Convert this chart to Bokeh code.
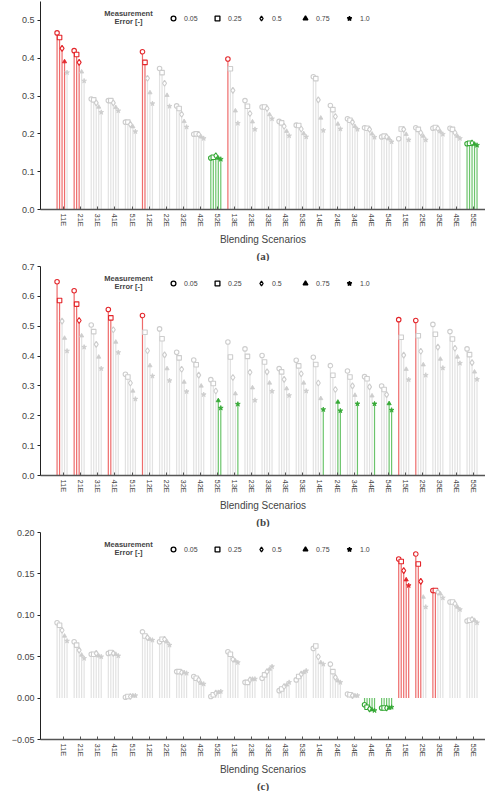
import math
from bokeh.plotting import figure
from bokeh.models import (Range1d, FixedTicker, Label, Legend, LegendItem,
                          CustomJSTickFormatter, ColumnDataSource, Title)
from bokeh.layouts import column
from bokeh.embed import file_html
from bokeh.resources import INLINE

# ---------------- data ----------------
scenarios = ["11E", "21E", "31E", "41E", "51E", "12E", "22E", "32E", "42E", "52E",
             "13E", "23E", "33E", "43E", "53E", "14E", "24E", "34E", "44E", "54E",
             "15E", "25E", "35E", "45E", "55E"]
errors = ["0.05", "0.25", "0.5", "0.75", "1.0"]

# panel (a): delta RMSE, one list of 5 values (per measurement error) per scenario
a_vals = [
    [0.467, 0.455, 0.426, 0.391, 0.362], [0.420, 0.410, 0.389, 0.364, 0.340],
    [0.292, 0.290, 0.282, 0.271, 0.257], [0.288, 0.288, 0.282, 0.270, 0.261],
    [0.231, 0.231, 0.225, 0.219, 0.206], [0.417, 0.389, 0.347, 0.309, 0.280],
    [0.373, 0.362, 0.334, 0.302, 0.273], [0.274, 0.267, 0.252, 0.233, 0.218],
    [0.199, 0.200, 0.199, 0.192, 0.188], [0.136, 0.138, 0.142, 0.136, 0.133],
    [0.398, 0.372, 0.315, 0.261, 0.228], [0.288, 0.273, 0.254, 0.232, 0.212],
    [0.271, 0.271, 0.267, 0.251, 0.240], [0.233, 0.229, 0.220, 0.207, 0.195],
    [0.223, 0.222, 0.213, 0.201, 0.192], [0.351, 0.346, 0.290, 0.242, 0.209],
    [0.275, 0.264, 0.246, 0.226, 0.213], [0.240, 0.236, 0.231, 0.220, 0.212],
    [0.216, 0.215, 0.212, 0.200, 0.191], [0.192, 0.194, 0.192, 0.187, 0.179],
    [0.187, 0.213, 0.212, 0.199, 0.184], [0.216, 0.212, 0.203, 0.194, 0.184],
    [0.215, 0.217, 0.214, 0.206, 0.199], [0.215, 0.212, 0.203, 0.194, 0.188],
    [0.174, 0.175, 0.176, 0.173, 0.170],
]
# '+' = worst (red), '-' = best (green), '.' = neither
a_flags = ["++++.", "+++..", ".....", ".....", ".....", "++...", ".....", ".....", ".....", "-----",
           "+....", ".....", ".....", ".....", ".....", ".....", ".....", ".....", ".....", ".....",
           ".....", ".....", ".....", ".....", "-----"]

# panel (b): delta RMSE
b_vals = [
    [0.649, 0.586, 0.517, 0.460, 0.417], [0.619, 0.574, 0.519, 0.468, 0.430],
    [0.504, 0.482, 0.439, 0.397, 0.358], [0.556, 0.528, 0.488, 0.447, 0.412],
    [0.339, 0.330, 0.310, 0.283, 0.256], [0.536, 0.480, 0.418, 0.368, 0.333],
    [0.491, 0.458, 0.404, 0.358, 0.318], [0.413, 0.394, 0.356, 0.313, 0.281],
    [0.387, 0.371, 0.336, 0.300, 0.271], [0.321, 0.308, 0.283, 0.251, 0.226],
    [0.447, 0.397, 0.328, 0.274, 0.239], [0.424, 0.399, 0.346, 0.294, 0.252],
    [0.402, 0.380, 0.347, 0.310, 0.282], [0.358, 0.347, 0.322, 0.291, 0.268],
    [0.386, 0.367, 0.341, 0.310, 0.283], [0.396, 0.372, 0.310, 0.258, 0.221],
    [0.368, 0.336, 0.288, 0.246, 0.217], [0.350, 0.330, 0.300, 0.269, 0.240],
    [0.331, 0.324, 0.297, 0.267, 0.240], [0.300, 0.288, 0.271, 0.241, 0.219],
    [0.522, 0.463, 0.403, 0.356, 0.321], [0.519, 0.468, 0.416, 0.371, 0.336],
    [0.506, 0.473, 0.430, 0.390, 0.360], [0.482, 0.457, 0.426, 0.397, 0.376],
    [0.424, 0.405, 0.378, 0.347, 0.322],
]
b_flags = ["++...", "+++..", ".....", "++...", ".....", "+....", ".....", ".....", ".....", "...--",
           "....-", ".....", ".....", ".....", ".....", "....-", "...--", "....-", "....-", "...--",
           "+....", "+....", ".....", ".....", "....."]

# panel (c): avg. delta RMSE
c_vals = [
    [0.091, 0.088, 0.082, 0.075, 0.069], [0.068, 0.064, 0.058, 0.052, 0.048],
    [0.053, 0.053, 0.054, 0.051, 0.050], [0.054, 0.055, 0.054, 0.053, 0.051],
    [0.001, 0.002, 0.002, 0.003, 0.003], [0.080, 0.075, 0.073, 0.071, 0.070],
    [0.068, 0.071, 0.071, 0.068, 0.064], [0.032, 0.032, 0.031, 0.031, 0.030],
    [0.026, 0.024, 0.022, 0.018, 0.017], [0.002, 0.004, 0.006, 0.007, 0.008],
    [0.056, 0.053, 0.047, 0.045, 0.043], [0.019, 0.019, 0.022, 0.023, 0.023],
    [0.024, 0.028, 0.032, 0.035, 0.038], [0.009, 0.011, 0.014, 0.016, 0.019],
    [0.022, 0.026, 0.029, 0.031, 0.033], [0.060, 0.063, 0.050, 0.043, 0.041],
    [0.041, 0.032, 0.025, 0.021, 0.019], [0.005, 0.004, 0.003, 0.003, 0.003],
    [-0.008, -0.011, -0.013, -0.014, -0.015], [-0.012, -0.012, -0.012, -0.012, -0.011],
    [0.168, 0.165, 0.154, 0.143, 0.136], [0.174, 0.162, 0.141, 0.122, 0.110],
    [0.130, 0.130, 0.128, 0.126, 0.121], [0.116, 0.116, 0.114, 0.110, 0.107],
    [0.093, 0.094, 0.095, 0.094, 0.091],
]
c_flags = [".....", ".....", ".....", ".....", ".....", ".....", ".....", ".....", ".....", ".....",
           ".....", ".....", ".....", ".....", ".....", ".....", ".....", ".....", "-----", "-----",
           "+++++", "+++..", "++...", ".....", "....."]

# ---------------- styling ----------------
FONT = "Liberation Sans"
FW = 445
OFFS = [-0.39, -0.244, -0.098, 0.048, 0.194]
MARKERS = [("circle", 4.5, True), ("square", 4.5, True), ("diamond", 6, True),
           ("triangle", 4.2, False), ("star", 5, False)]
LEG_SIZES = [5, 5, 7.5, 5.5, 6]
STEM = {"+": "#ee6b6b", "-": "#6cc46c", ".": "#e2e2e2"}
MARK = {"+": "#e3262b", "-": "#35a835", ".": "#cdcdcd"}


def make_panel(vals, flags, ylabel, yr, yticks, digits, caption, top_border, fh):
    p = figure(frame_width=FW, frame_height=fh,
               x_range=Range1d(-1.36, 24.69), y_range=Range1d(*yr),
               output_backend="svg", toolbar_location=None,
               min_border_left=40, min_border_right=0,
               min_border_top=top_border, min_border_bottom=0)
    p.outline_line_color = None
    p.xgrid.visible = False
    p.ygrid.visible = False

    xs, ys, sc, mc = [], [], [], []
    for i, s in enumerate(scenarios):
        for j in range(5):
            f = flags[i][j]
            xs.append(i + OFFS[j])
            ys.append(vals[i][j])
            sc.append(STEM[f])
            mc.append(MARK[f])
    p.segment(x0=xs, y0=[0] * len(xs), x1=xs, y1=ys, line_color=sc, line_width=1.2)

    for j, (mk, sz, hollow) in enumerate(MARKERS):
        src = ColumnDataSource(dict(x=xs[j::5], y=ys[j::5], c=mc[j::5]))
        if hollow:
            p.scatter("x", "y", source=src, marker=mk, size=sz, line_color="c",
                      fill_color="white", line_width=1.1)
        else:
            p.scatter("x", "y", source=src, marker=mk, size=sz, line_color="c",
                      fill_color="c", line_width=0.8)

    # legend (black markers); the sample point lies outside the visible range
    items = []
    for j, (mk, sz, hollow) in enumerate(MARKERS):
        r = p.scatter(x=[-100], y=[0], marker=mk, size=LEG_SIZES[j], line_color="black",
                      fill_color="white" if hollow else "black", line_width=1.3)
        items.append(LegendItem(label=errors[j], renderers=[r]))
    leg = Legend(items=items, orientation="horizontal", location=(127, fh - 23),
                 glyph_width=12, glyph_height=12, label_height=12, label_width=18,
                 label_standoff=5, spacing=9, padding=0, margin=0,
                 border_line_color=None, background_fill_alpha=0,
                 label_text_font=FONT, label_text_font_size="7px",
                 label_text_baseline="middle")
    p.add_layout(leg, "center")
    for k, t in enumerate(["Measurement", "Error [-]"]):
        p.add_layout(Label(x=88, y=fh - 12 - 7.5 * k, x_units="screen", y_units="screen",
                           text=t, text_align="center", text_baseline="middle",
                           text_font=FONT, text_font_style="bold", text_font_size="7.5px"))

    # y axis
    p.yaxis.ticker = FixedTicker(ticks=yticks)
    p.yaxis.formatter = CustomJSTickFormatter(
        code="return tick.toFixed(%d).replace('-', '\\u2212')" % digits)
    p.yaxis.major_label_text_font = FONT
    p.yaxis.major_label_text_font_size = "9px"
    p.yaxis.major_label_standoff = 3
    p.yaxis.major_tick_in = 0
    p.yaxis.major_tick_out = 3
    p.yaxis.minor_tick_line_color = None
    p.yaxis.axis_line_color = "#222222"
    p.yaxis.major_tick_line_color = "#222222"
    p.add_layout(Label(x=-28, y=(yr[0] + yr[1]) / 2, x_units="screen", y_units="data",
                       text=ylabel, angle=math.pi / 2, text_align="center",
                       text_baseline="middle", text_font=FONT, text_font_size="10px"))

    # x axis
    p.xaxis.ticker = FixedTicker(ticks=list(range(len(scenarios))))
    p.xaxis.formatter = CustomJSTickFormatter(args=dict(names=scenarios),
                                              code="return names[Math.round(tick)] || ''")
    p.xaxis.major_label_orientation = "vertical"
    p.xaxis.major_label_text_font = FONT
    p.xaxis.major_label_text_font_size = "7.5px"
    p.xaxis.major_label_standoff = 4
    p.xaxis.major_tick_in = 3
    p.xaxis.major_tick_out = 0
    p.xaxis.minor_tick_line_color = None
    p.xaxis.axis_line_color = "#555555"
    p.xaxis.axis_line_width = 1.5
    p.xaxis.major_tick_line_color = "#555555"
    p.xaxis.axis_label = "Blending Scenarios"
    p.xaxis.axis_label_text_font = FONT
    p.xaxis.axis_label_text_font_style = "normal"
    p.xaxis.axis_label_text_font_size = "10px"
    p.xaxis.axis_label_standoff = 4

    p.add_layout(Title(text=caption, align="center", text_font="Liberation Serif",
                       text_font_style="bold", text_font_size="11px", standoff=0), "below")
    return p


pa = make_panel(a_vals, a_flags, "delta RMSE [-]", (0, 0.55),
                [0, 0.1, 0.2, 0.3, 0.4, 0.5], 1, "(a)", 1, 208)
pb = make_panel(b_vals, b_flags, "delta RMSE [-]", (0, 0.7),
                [0, 0.1, 0.2, 0.3, 0.4, 0.5, 0.6, 0.7], 1, "(b)", 5, 209)
pc = make_panel(c_vals, c_flags, "avg. delta RMSE [-]", (-0.05, 0.20),
                [-0.05, 0, 0.05, 0.10, 0.15, 0.20], 2, "(c)", 5, 207)

layout = column(pa, pb, pc, spacing=0)
open("out.html", "w").write(file_html(layout, INLINE))
